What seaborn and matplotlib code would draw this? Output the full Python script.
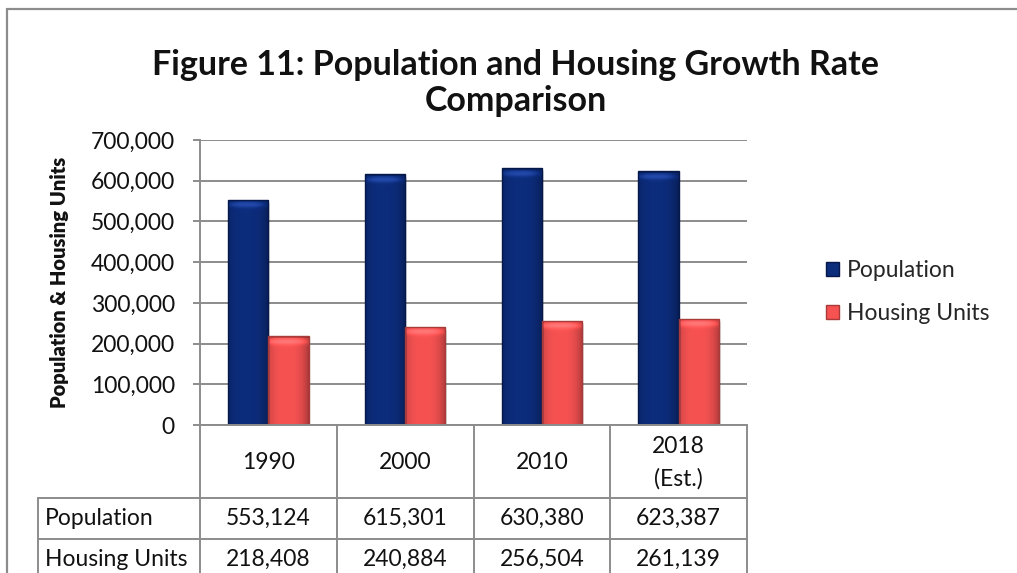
import matplotlib
matplotlib.use("Agg")
import matplotlib.pyplot as plt
from matplotlib.lines import Line2D
from matplotlib.patches import Rectangle
import matplotlib.colors as mcolors
import numpy as np
import seaborn as sns
import pandas as pd

# ---- data -------------------------------------------------------------
years = ["1990", "2000", "2010", "2018\n(Est.)"]
series_names = ["Population", "Housing Units"]
population = [553124, 615301, 630380, 623387]
housing_units = [218408, 240884, 256504, 261139]
y_ticks = [0, 100000, 200000, 300000, 400000, 500000, 600000, 700000]

colors = {"Population": "#0c2c7c", "Housing Units": "#f75252"}
edges = {"Population": "#05184a", "Housing Units": "#a83a3a"}

df = pd.DataFrame({
    "year": years * 2,
    "series": [series_names[0]] * len(years) + [series_names[1]] * len(years),
    "value": population + housing_units,
})

# ---- figure -----------------------------------------------------------
sns.set_style("white")
plt.rcParams["font.family"] = ["Lato", "DejaVu Sans"]

W, H = 1017, 573
fig = plt.figure(figsize=(W / 100, H / 100), dpi=100)
x0, x1, ytop, ybot = 200, 747, 140, 425
ax = fig.add_axes([x0 / W, 1 - ybot / H, (x1 - x0) / W, (ybot - ytop) / H])

sns.barplot(data=df, x="year", y="value", hue="series", order=years,
            hue_order=series_names, palette=colors, width=0.59, gap=0,
            ax=ax, legend=False, saturation=1)

ax.set_ylim(0, 700000)
ax.set_xlim(-0.5, len(years) - 0.5)

# bevelled shading: darker sides, soft lighter band along the top edge
units_per_px = 700000 / (ybot - ytop)
bar_series = [series_names[0]] * len(years) + [series_names[1]] * len(years)
for bar, name in zip(list(ax.patches), bar_series):
    bx, by = bar.get_x(), bar.get_y()
    bw, bh = bar.get_width(), bar.get_height()
    base = np.array(mcolors.to_rgb(colors[name]))
    nrow = max(int(bh / units_per_px), 2)
    ncol = 40
    u = np.linspace(0, 1, ncol)
    side = 1.0 - 0.30 * (np.abs(u - 0.45) / 0.55) ** 3
    from_top = np.arange(nrow)
    top = np.where(from_top < 2, 0.85,
                   1.0 + 0.22 * np.exp(-((from_top - 5) / 3.0) ** 2))
    shade = top[:, None] * side[None, :]
    lift = np.clip(shade - 1.0, 0, None)[:, :, None] * 0.35
    img = np.clip(base[None, None, :] * shade[:, :, None] + lift, 0, 1)
    bar.set_facecolor("none")
    bar.set_edgecolor(edges[name])
    bar.set_linewidth(1.0)
    bar.set_zorder(3)
    im = ax.imshow(img, extent=(bx, bx + bw, by, by + bh), aspect="auto",
                   origin="upper", zorder=2.5, interpolation="bilinear")
    im.set_clip_path(bar)
    # soft shadow to the lower right
    ax.add_patch(Rectangle((bx + 0.012, by), bw, bh - 3 * units_per_px,
                           facecolor="black", alpha=0.12, zorder=2.2,
                           linewidth=0))

ax.set_ylim(0, 700000)
ax.set_xlim(-0.5, len(years) - 0.5)
ax.set_yticks(y_ticks)
ax.set_yticklabels([f"{v:,}" for v in y_ticks])
ax.yaxis.grid(True, color="#8c8c8c", linewidth=1.4)
ax.set_axisbelow(True)
for s in ["top", "right", "bottom"]:
    ax.spines[s].set_visible(False)
ax.spines["left"].set_color("#8c8c8c")
ax.spines["left"].set_linewidth(1.4)
ax.tick_params(axis="y", length=5, width=1.4, color="#8c8c8c", pad=13,
               labelsize=16.5, labelcolor="#111111", left=True)
ax.set_xticks([])
ax.set_xlabel("")
ax.set_ylabel("Population & Housing Units", fontsize=14.5, fontweight="heavy",
              labelpad=16, color="#111111")

# ---- data table under the axis -----------------------------------------
gcol = "#8c8c8c"
lw = 1.4
tr = ax.get_xaxis_transform()
px = 1.0 / (ybot - ytop)             # one pixel in axes-fraction units
y_hdr = -(498 - ybot) * px
y_r1 = -(539 - ybot) * px
y_r2 = -(580 - ybot) * px
x_left = -0.5 - (x0 - 38) / ((x1 - x0) / len(years))

ax.add_line(Line2D([-0.5, len(years) - 0.5], [0, 0], transform=tr,
                   color=gcol, lw=lw, clip_on=False, zorder=4))
for xb in [i - 0.5 for i in range(len(years) + 1)]:
    ax.add_line(Line2D([xb, xb], [0, y_r2], transform=tr, color=gcol,
                       lw=lw, clip_on=False))
for yb in [y_hdr, y_r1]:
    ax.add_line(Line2D([x_left, len(years) - 0.5], [yb, yb], transform=tr,
                       color=gcol, lw=lw, clip_on=False))
ax.add_line(Line2D([x_left, x_left], [y_hdr, y_r2], transform=tr, color=gcol,
                   lw=lw, clip_on=False))

for i, yr in enumerate(years):
    ax.text(i, y_hdr / 2 - 1 * px, yr, transform=tr, ha="center", va="center",
            fontsize=16.5, color="#111111", linespacing=1.62)
rows = [(series_names[0], population), (series_names[1], housing_units)]
row_centres = [(y_hdr + y_r1) / 2, y_r1 - 20 * px]
for (label, vals), yc in zip(rows, row_centres):
    ax.text(x_left + 0.05, yc, label, transform=tr, ha="left", va="center",
            fontsize=16.5, color="#111111")
    for i, v in enumerate(vals):
        ax.text(i, yc, f"{v:,}", transform=tr, ha="center", va="center",
                fontsize=16.5, color="#111111")

# ---- legend -----------------------------------------------------------
handles = [Rectangle((0, 0), 1, 1, facecolor=colors[n], edgecolor=edges[n])
           for n in series_names]
fig.legend(handles, series_names, loc="center left",
           bbox_to_anchor=(826 / W, 1 - 292 / H), frameon=False,
           fontsize=16.5, handlelength=0.58, handleheight=0.58,
           handletextpad=0.32, labelspacing=0.95, borderpad=0,
           borderaxespad=0)

# ---- title and outer frame ---------------------------------------------
fig.text(0.507, 1 - 83 / H, "Figure 11: Population and Housing Growth Rate\nComparison",
         ha="center", va="center", fontsize=24.5, fontweight="bold",
         color="#111111", linespacing=1.19)

fig.add_artist(Line2D([7 / W, 7 / W], [0, 1 - 9 / H], color=gcol, lw=1.6))
fig.add_artist(Line2D([7 / W, 1], [1 - 9 / H, 1 - 9 / H], color=gcol, lw=1.6))

fig.savefig("out.png", dpi=100)
